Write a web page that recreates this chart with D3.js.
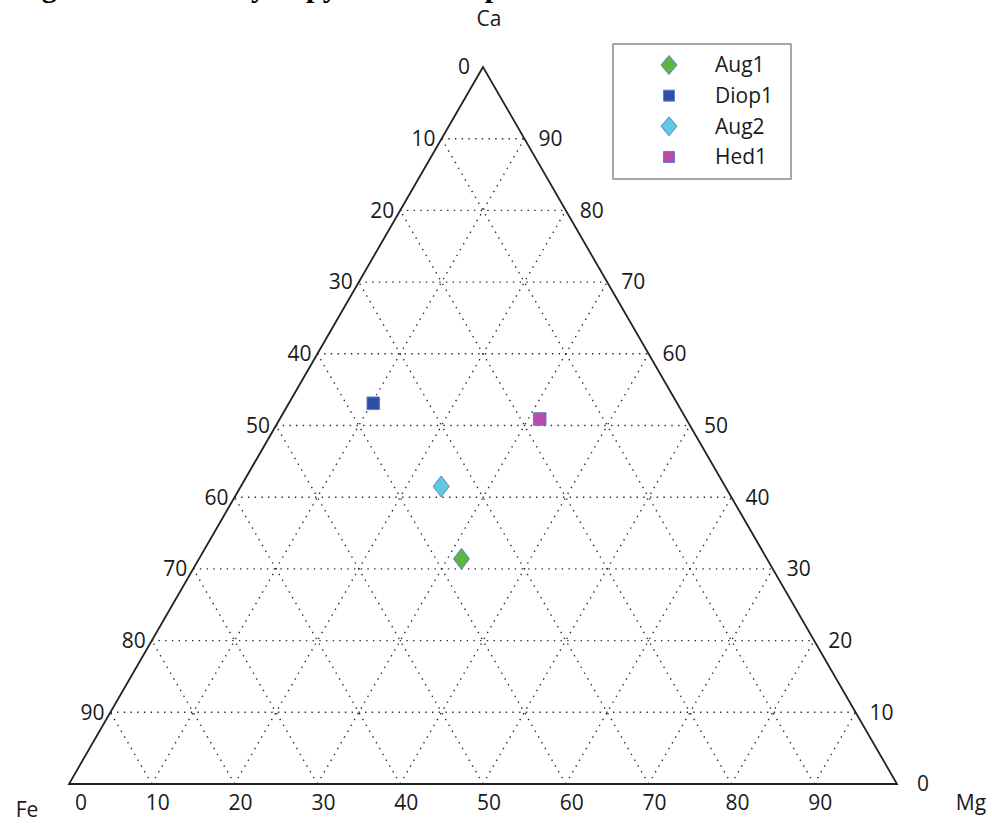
<!DOCTYPE html>
<html>
<head>
<meta charset="utf-8">
<script src="https://cdn.jsdelivr.net/npm/d3@7/dist/d3.min.js"></script>
<style>
  html, body { margin: 0; padding: 0; background: #fff; }
  svg { display: block; }
</style>
</head>
<body>
<script>
// Pyroxene compositions (percent Ca, Mg, Fe)
const samples = ["Aug1", "Diop1", "Aug2", "Hed1"];
const caValues = [31.4, 53.1, 41.5, 50.9];
const mgValues = [31.7, 10.2, 24.2, 31.4];
const feValues = [36.9, 36.7, 34.3, 17.7];
const sampleShapes = ["diamond", "square", "diamond", "square"];
const sampleColors = ["#5db544", "#2f4fa6", "#5ccbe0", "#b84ca9"];

// Axis tick values
const tickValues = [0, 10, 20, 30, 40, 50, 60, 70, 80, 90];
const gridLevels = [10, 20, 30, 40, 50, 60, 70, 80, 90];
const cornerLabels = ["Ca", "Fe", "Mg"];
const titleText = "Figure 4: Summary of pyroxene compositions";

const W = 992, H = 826;
const svg = d3.select("body").append("svg").attr("width", W).attr("height", H);

// Ternary projection: x follows Mg + Ca/2, y follows Ca
const xS = d3.scaleLinear().domain([0, 100]).range([69, 897]);
const yS = d3.scaleLinear().domain([0, 100]).range([784, 67]);
const proj = (ca, mg) => [xS(mg + ca / 2), yS(ca)];

const numFont = "'Open Sans', sans-serif";

// Caption (runs off the top edge)
svg.append("text")
  .attr("x", 15).attr("y", -3)
  .attr("font-family", "'Liberation Serif', 'Times New Roman', serif")
  .attr("font-weight", "bold")
  .attr("font-size", 30)
  .text(titleText);

// Dotted grid
const grid = svg.append("g")
  .attr("fill", "none")
  .attr("stroke", "#2a2a2a")
  .attr("stroke-width", 1.4)
  .attr("stroke-dasharray", "1.4,5.3");
const line = d3.line();
gridLevels.forEach(v => {
  // constant Ca
  grid.append("path").attr("d", line([proj(v, 0), proj(v, 100 - v)]));
  // constant Mg
  grid.append("path").attr("d", line([proj(0, v), proj(100 - v, v)]));
  // constant Fe
  grid.append("path").attr("d", line([proj(0, 100 - v), proj(100 - v, 0)]));
});

// Triangle frame
svg.append("path")
  .attr("d", line([proj(100, 0), proj(0, 0), proj(0, 100)]) + "Z")
  .attr("fill", "none")
  .attr("stroke", "#222")
  .attr("stroke-width", 1.8)
  .attr("stroke-linejoin", "miter");

const labels = svg.append("g")
  .attr("font-family", numFont)
  .attr("font-size", 21)
  .attr("fill", "#1a1a1a");

// Left edge: Fe from the Ca corner downwards
tickValues.forEach(v => {
  const [x, y] = proj(100 - v, 0);
  labels.append("text")
    .attr("x", x - (v === 0 ? 13 : 6)).attr("y", y).attr("dy", "0.35em")
    .attr("text-anchor", "end")
    .text(v);
});

// Right edge: Ca
tickValues.forEach(v => {
  const [x, y] = proj(v, 100 - v);
  labels.append("text")
    .attr("x", x + (v === 0 ? 20 : 14)).attr("y", y).attr("dy", "0.35em")
    .attr("text-anchor", "start")
    .text(v);
});

// Bottom edge: Mg
tickValues.forEach(v => {
  const [x, y] = proj(0, v);
  labels.append("text")
    .attr("x", x + (v === 0 ? 12 : 6)).attr("y", y + 26)
    .attr("text-anchor", "middle")
    .text(v);
});

// Corner names
const corners = svg.append("g")
  .attr("font-family", numFont)
  .attr("font-size", 21)
  .attr("fill", "#1a1a1a")
  .attr("text-anchor", "middle");
corners.append("text").attr("x", 489).attr("y", 26).text(cornerLabels[0]);
corners.append("text").attr("x", 27).attr("y", 817).text(cornerLabels[1]);
corners.append("text").attr("x", 971).attr("y", 810).text(cornerLabels[2]);

// Marker shapes
function markerPath(shape) {
  if (shape === "diamond") {
    const hw = 8, hh = 10.5;
    return `M0,${-hh}L${hw},0L0,${hh}L${-hw},0Z`;
  }
  const s = 6.3;
  return `M${-s},${-s}H${s}V${s}H${-s}Z`;
}

const data = samples.map((name, i) => ({
  name, ca: caValues[i], mg: mgValues[i], fe: feValues[i],
  shape: sampleShapes[i], color: sampleColors[i]
}));

svg.append("g").selectAll("path")
  .data(data)
  .join("path")
  .attr("transform", d => { const [x, y] = proj(d.ca, d.mg); return `translate(${x},${y})`; })
  .attr("d", d => markerPath(d.shape))
  .attr("fill", d => d.color)
  .attr("stroke", "#5f80c8")
  .attr("stroke-width", 1);

// Legend
const legend = svg.append("g");
legend.append("rect")
  .attr("x", 613).attr("y", 44).attr("width", 178).attr("height", 135)
  .attr("fill", "#fff")
  .attr("stroke", "#8a8a8a")
  .attr("stroke-width", 1.5);
const rowY = d3.scalePoint().domain(samples).range([65, 157]);
const rows = legend.selectAll("g.row")
  .data(data)
  .join("g")
  .attr("class", "row")
  .attr("transform", d => `translate(0,${rowY(d.name)})`);
rows.append("path")
  .attr("transform", "translate(669,0)")
  .attr("d", d => d.shape === "diamond"
    ? "M0,-9.5L8,0L0,9.5L-8,0Z"
    : "M-5.5,-5.5H5.5V5.5H-5.5Z")
  .attr("fill", d => d.color)
  .attr("stroke", "#5f80c8")
  .attr("stroke-width", 1);
rows.append("text")
  .attr("x", 715).attr("dy", "0.35em")
  .attr("font-family", numFont)
  .attr("font-size", 21)
  .attr("fill", "#1a1a1a")
  .text(d => d.name);
</script>
</body>
</html>
